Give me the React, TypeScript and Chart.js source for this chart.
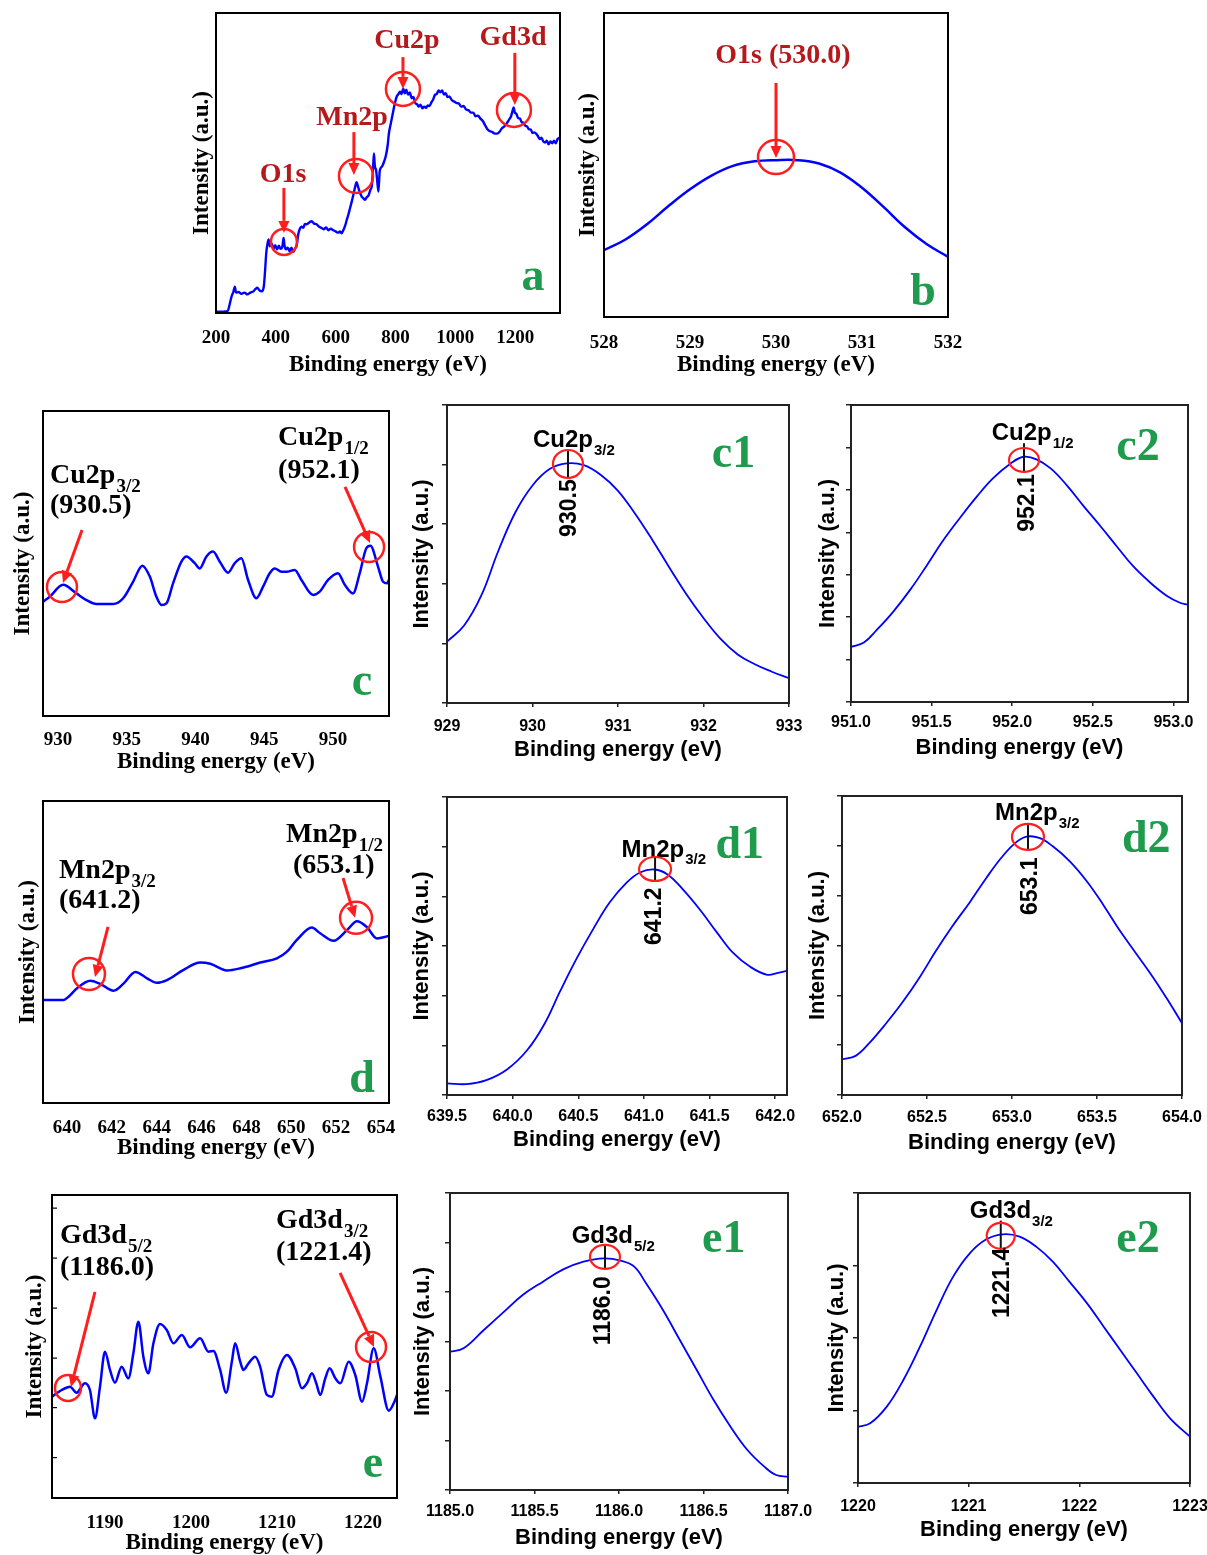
import React, { useEffect, useRef } from "react";
import { Chart, registerables } from "chart.js";
Chart.register(...registerables);

const SERIF = "'Liberation Serif', 'Times New Roman', serif";
const SANS = "'Liberation Sans', Arial, sans-serif";
const BLUE = "#0000FF";
const RED_MARK = "#FF1E1E";
const RED_TEXT = "#B5191C";
const GREEN = "#1E9B4C";

// ---------------- data ----------------
// (a) survey spectrum
const surveyEnergy = [200,215,230,240,246,252,258,263,267,275,285,295,305,315,325,332,338,345,353,360,364,368,372,376,380,386,392,398,404,410,416,422,426,429,434,440,446,452,458,464,470,475,480,486,492,497,504,512,520,528,536,544,552,560,568,576,584,592,600,608,615,620,626,632,637,643,648,654,659,665,670,674,680,687,693,698,704,710,716,721,725,728,731,735,739,743,747,750,756,762,768,774,778,784,790,797,804,810,815,820,826,831,836,842,848,854,860,866,872,878,884,890,896,902,908,914,920,926,932,938,944,950,956,962,968,974,980,988,996,1004,1012,1020,1028,1036,1044,1052,1060,1068,1076,1084,1092,1100,1108,1116,1124,1132,1140,1148,1156,1164,1172,1180,1186,1191,1195,1199,1204,1210,1216,1222,1228,1234,1240,1246,1252,1258,1264,1270,1276,1282,1288,1294,1300,1306,1312,1318,1324,1330,1336,1342,1350];
const surveyIntensity = [0.004,0.004,0.005,0.008,0.03,0.055,0.07,0.088,0.068,0.07,0.064,0.068,0.062,0.068,0.072,0.08,0.084,0.076,0.072,0.09,0.14,0.2,0.23,0.245,0.222,0.232,0.214,0.226,0.212,0.224,0.214,0.222,0.25,0.226,0.212,0.218,0.206,0.218,0.204,0.214,0.226,0.262,0.28,0.288,0.284,0.297,0.296,0.302,0.306,0.298,0.296,0.288,0.284,0.279,0.285,0.276,0.281,0.276,0.272,0.268,0.272,0.266,0.277,0.292,0.31,0.33,0.349,0.372,0.393,0.42,0.436,0.424,0.405,0.388,0.382,0.377,0.386,0.392,0.41,0.425,0.48,0.532,0.49,0.477,0.44,0.405,0.47,0.482,0.49,0.505,0.525,0.56,0.599,0.63,0.66,0.695,0.721,0.73,0.738,0.73,0.748,0.732,0.744,0.728,0.735,0.716,0.72,0.7,0.696,0.688,0.694,0.682,0.688,0.684,0.692,0.69,0.702,0.712,0.727,0.73,0.742,0.736,0.742,0.728,0.733,0.72,0.722,0.71,0.705,0.7,0.698,0.688,0.69,0.678,0.676,0.668,0.668,0.656,0.658,0.648,0.64,0.625,0.612,0.606,0.603,0.598,0.598,0.604,0.616,0.622,0.632,0.645,0.655,0.672,0.685,0.668,0.664,0.65,0.648,0.636,0.634,0.624,0.622,0.612,0.612,0.6,0.602,0.598,0.59,0.58,0.584,0.572,0.568,0.574,0.562,0.572,0.566,0.574,0.566,0.58,0.585];
const surveyTicks = [200, 400, 600, 800, 1000, 1200];

// (b) O1s
const o1sEnergy = [528.0,528.25,528.5,528.75,529.0,529.25,529.5,529.75,530.0,530.25,530.5,530.75,531.0,531.25,531.5,531.75,532.0];
const o1sIntensity = [0.22,0.255,0.305,0.365,0.42,0.465,0.497,0.512,0.516,0.516,0.505,0.475,0.425,0.362,0.295,0.24,0.198];
const o1sTicks = [528, 529, 530, 531, 532];

// (c) Cu2p
const cu2pEnergy = [928.91,929.39,930.36,931.33,932.06,932.79,934.0,934.73,935.45,936.13,936.67,937.15,937.52,937.88,938.36,938.97,939.33,939.94,940.3,940.79,941.27,941.76,942.36,942.85,943.33,943.82,944.42,944.91,945.39,945.76,946.24,946.61,947.21,947.7,948.55,949.03,949.64,950.36,950.85,951.45,951.94,952.42,952.72,953.27,953.64,953.93,954.07];
const cu2pIntensity = [0.375,0.391,0.43,0.402,0.38,0.367,0.367,0.386,0.44,0.493,0.457,0.391,0.364,0.369,0.435,0.506,0.523,0.501,0.484,0.523,0.539,0.506,0.47,0.501,0.517,0.446,0.386,0.424,0.468,0.484,0.473,0.473,0.479,0.446,0.397,0.408,0.446,0.468,0.43,0.402,0.468,0.55,0.558,0.49,0.44,0.435,0.446];
const cu2pTicks = [930, 935, 940, 945, 950];

// (c1) Cu2p3/2
const cu2p32Energy = [929.0,929.2,929.4,929.6,929.8,930.0,930.2,930.4,930.6,930.8,931.0,931.2,931.4,931.6,931.8,932.0,932.2,932.4,932.6,932.8,933.0];
const cu2p32Intensity = [0.206,0.26,0.36,0.51,0.64,0.73,0.785,0.804,0.798,0.765,0.712,0.635,0.548,0.455,0.365,0.285,0.215,0.163,0.13,0.105,0.083];
const cu2p32Ticks = [929, 930, 931, 932, 933];
const cu2p32YTicks = [0, 0.2, 0.4, 0.6, 0.8, 1.0];

// (c2) Cu2p1/2
const cu2p12Energy = [951.0,951.08,951.16,951.26,951.37,951.47,951.57,951.68,951.78,951.88,951.99,952.07,952.15,952.24,952.34,952.44,952.55,952.65,952.75,952.86,952.96,953.04,953.09];
const cu2p12Intensity = [1.3,1.4,1.7,2.12,2.66,3.22,3.8,4.36,4.84,5.27,5.62,5.78,5.72,5.5,5.1,4.63,4.13,3.66,3.2,2.8,2.5,2.34,2.29];
const cu2p12Ticks = [951.0, 951.5, 952.0, 952.5, 953.0];
const cu2p12YTicks = [0, 1, 2, 3, 4, 5, 6, 7];

// (d) Mn2p
const mn2pEnergy = [638.96,639.85,640.07,640.45,641.04,641.49,642.08,642.53,643.05,643.57,644.01,644.46,645.2,645.94,646.39,647.13,647.73,648.62,649.36,649.81,650.25,650.92,651.29,651.89,652.48,652.93,653.37,653.82,654.34];
const mn2pIntensity = [0.341,0.341,0.352,0.38,0.405,0.394,0.372,0.396,0.434,0.413,0.398,0.407,0.441,0.465,0.461,0.439,0.446,0.465,0.479,0.501,0.54,0.581,0.562,0.537,0.572,0.602,0.583,0.545,0.553];
const mn2pTicks = [640, 642, 644, 646, 648, 650, 652, 654];

// (d1) Mn2p3/2
const mn2p32Energy = [639.5,639.65,639.8,639.96,640.11,640.24,640.36,640.49,640.62,640.74,640.87,640.97,641.08,641.18,641.3,641.43,641.56,641.68,641.81,641.94,642.02,642.09];
const mn2p32Intensity = [0.235,0.22,0.3,0.52,0.9,1.42,2.08,2.76,3.37,3.88,4.28,4.48,4.54,4.44,4.13,3.72,3.26,2.86,2.58,2.42,2.46,2.5];
const mn2p32Ticks = [639.5, 640.0, 640.5, 641.0, 641.5, 642.0];
const mn2p32YTicks = [0, 1, 2, 3, 4, 5, 6];

// (d2) Mn2p1/2
const mn2p12Energy = [652.0,652.08,652.16,652.26,652.36,652.46,652.55,652.65,652.75,652.85,652.93,653.01,653.08,653.16,653.24,653.34,653.44,653.54,653.63,653.73,653.83,653.91,654.0];
const mn2p12Intensity = [0.718,0.785,1.04,1.44,1.88,2.38,2.88,3.39,3.86,4.36,4.73,5.03,5.18,5.16,4.99,4.69,4.29,3.8,3.32,2.84,2.36,1.94,1.44];
const mn2p12Ticks = [652.0, 652.5, 653.0, 653.5, 654.0];
const mn2p12YTicks = [0, 1, 2, 3, 4, 5, 6];

// (e) Gd3d
const gd3dEnergy = [1183.84,1184.96,1185.93,1186.7,1187.67,1188.25,1188.84,1189.42,1190.0,1190.58,1191.16,1191.94,1192.72,1193.3,1193.88,1194.46,1195.04,1195.63,1196.4,1197.18,1197.96,1198.93,1199.9,1201.06,1202.03,1202.61,1203.39,1204.09,1204.75,1205.13,1205.72,1206.1,1206.69,1207.46,1208.04,1208.82,1209.4,1210.18,1211.15,1212.12,1212.9,1213.48,1214.06,1214.56,1215.03,1215.61,1216.12,1216.78,1217.36,1218.33,1219.1,1219.88,1220.46,1221.24,1222.02,1222.99,1223.57,1223.95];
const gd3dIntensity = [2.007,2.139,2.205,2.086,2.271,2.139,1.578,2.205,2.898,2.535,2.284,2.601,2.37,2.865,3.492,2.799,2.469,3.063,3.446,3.327,3.063,3.228,2.983,3.162,2.898,2.911,2.535,2.086,2.7,3.063,2.7,2.535,2.667,2.799,2.601,2.04,2.007,2.535,2.832,2.568,2.172,2.271,2.469,2.271,2.04,2.37,2.568,2.37,2.271,2.7,2.436,1.908,2.271,2.964,2.403,1.729,1.875,2.04];
const gd3dTicks = [1190, 1200, 1210, 1220];
const gd3dInnerTicks = [0.8, 1.79, 2.77, 3.76, 4.75, 5.74];

// (e1) Gd3d5/2
const gd3d52Energy = [1185.0,1185.08,1185.2,1185.32,1185.43,1185.55,1185.67,1185.79,1185.91,1186.01,1186.09,1186.16,1186.26,1186.36,1186.46,1186.56,1186.66,1186.76,1186.86,1186.93,1187.0];
const gd3d52Intensity = [2.795,2.862,3.232,3.603,3.939,4.209,4.458,4.613,4.68,4.633,4.512,4.175,3.636,3.03,2.424,1.818,1.279,0.808,0.471,0.303,0.269];
const gd3d52Ticks = [1185.0, 1185.5, 1186.0, 1186.5, 1187.0];
const gd3d52YTicks = [0, 1, 2, 3, 4, 5, 6];

// (e2) Gd3d3/2
const gd3d32Energy = [1220.0,1220.11,1220.26,1220.41,1220.56,1220.71,1220.86,1221.01,1221.16,1221.31,1221.46,1221.61,1221.76,1221.91,1222.07,1222.22,1222.37,1222.52,1222.67,1222.82,1223.0];
const gd3d32Intensity = [0.777,0.823,1.053,1.421,1.88,2.386,2.846,3.168,3.361,3.43,3.398,3.26,3.053,2.777,2.478,2.156,1.834,1.513,1.191,0.892,0.639];
const gd3d32Ticks = [1220, 1221, 1222, 1223];
const gd3d32YTicks = [0, 1, 2, 3, 4];

// ---------------- layout / annotation specs ----------------
type Mark =
  | { kind: "label"; x: number; y: number; text: string; sub?: string; align: "left" | "center"; tone: "red" | "black" }
  | { kind: "circle"; x: number; y: number; rx: number; ry: number }
  | { kind: "arrow"; x1: number; y1: number; x2: number; y2: number }
  | { kind: "tick"; x: number; y1: number; y2: number }
  | { kind: "vtext"; x: number; y: number; text: string }
  | { kind: "letter"; x: number; y: number; text: string };

interface PanelSpec {
  key: string;
  box: [number, number, number, number];
  energy: number[];
  intensity: number[];
  xMin: number; xMax: number; xTicks: number[]; xDec: number;
  yMax: number; yTicks: number[]; innerTicks?: number[];
  serif: boolean; lineWidth: number; smooth: boolean;
  tickY: number; titleY: number; yTitleX: number;
  marks: Mark[];
}

const panels: PanelSpec[] = [
  {
    key: "a", box: [216, 13, 560, 313], energy: surveyEnergy, intensity: surveyIntensity,
    xMin: 200, xMax: 1350, xTicks: surveyTicks, xDec: 0, yMax: 1, yTicks: [],
    serif: true, lineWidth: 2.4, smooth: false, tickY: 338, titleY: 365, yTitleX: 202,
    marks: [
      { kind: "label", x: 424, y: 0.438, text: "O1s", align: "center", tone: "red" },
      { kind: "label", x: 655, y: 0.627, text: "Mn2p", align: "center", tone: "red" },
      { kind: "label", x: 838, y: 0.882, text: "Cu2p", align: "center", tone: "red" },
      { kind: "label", x: 1193, y: 0.893, text: "Gd3d", align: "center", tone: "red" },
      { kind: "arrow", x1: 427, y1: 0.417, x2: 427, y2: 0.267 },
      { kind: "arrow", x1: 661, y1: 0.603, x2: 661, y2: 0.46 },
      { kind: "arrow", x1: 825, y1: 0.853, x2: 825, y2: 0.747 },
      { kind: "arrow", x1: 1199, y1: 0.867, x2: 1199, y2: 0.693 },
      { kind: "circle", x: 427, y: 0.237, rx: 13, ry: 13 },
      { kind: "circle", x: 668, y: 0.457, rx: 17, ry: 17 },
      { kind: "circle", x: 825, y: 0.747, rx: 17, ry: 17 },
      { kind: "circle", x: 1196, y: 0.677, rx: 17, ry: 17 },
      { kind: "letter", x: 1260, y: 0.077, text: "a" },
    ],
  },
  {
    key: "b", box: [604, 13, 948, 317], energy: o1sEnergy, intensity: o1sIntensity,
    xMin: 528, xMax: 532, xTicks: o1sTicks, xDec: 0, yMax: 1, yTicks: [],
    serif: true, lineWidth: 2.5, smooth: true, tickY: 343, titleY: 365, yTitleX: 588,
    marks: [
      { kind: "label", x: 530.08, y: 0.835, text: "O1s (530.0)", align: "center", tone: "red" },
      { kind: "arrow", x1: 530.0, y1: 0.77, x2: 530.0, y2: 0.523 },
      { kind: "circle", x: 530.0, y: 0.526, rx: 18, ry: 17 },
      { kind: "letter", x: 531.71, y: 0.039, text: "b" },
    ],
  },
  {
    key: "c", box: [43, 411, 389, 716], energy: cu2pEnergy, intensity: cu2pIntensity,
    xMin: 928.9, xMax: 954.07, xTicks: cu2pTicks, xDec: 0, yMax: 1, yTicks: [],
    serif: true, lineWidth: 2.5, smooth: false, tickY: 740, titleY: 762, yTitleX: 23,
    marks: [
      { kind: "label", x: 929.41, y: 0.763, text: "Cu2p", sub: "3/2", align: "left", tone: "black" },
      { kind: "label", x: 929.41, y: 0.666, text: "(930.5)", align: "left", tone: "black" },
      { kind: "label", x: 946.0, y: 0.889, text: "Cu2p", sub: "1/2", align: "left", tone: "black" },
      { kind: "label", x: 946.0, y: 0.78, text: "(952.1)", align: "left", tone: "black" },
      { kind: "arrow", x1: 931.74, y1: 0.61, x2: 930.35, y2: 0.436 },
      { kind: "arrow", x1: 950.87, y1: 0.751, x2: 952.69, y2: 0.567 },
      { kind: "circle", x: 930.28, y: 0.423, rx: 15, ry: 15 },
      { kind: "circle", x: 952.62, y: 0.554, rx: 15, ry: 15 },
      { kind: "letter", x: 952.11, y: 0.069, text: "c" },
    ],
  },
  {
    key: "c1", box: [447, 405, 789, 703], energy: cu2p32Energy, intensity: cu2p32Intensity,
    xMin: 929, xMax: 933, xTicks: cu2p32Ticks, xDec: 0, yMax: 1, yTicks: cu2p32YTicks,
    serif: false, lineWidth: 1.8, smooth: true, tickY: 727, titleY: 750, yTitleX: 422,
    marks: [
      { kind: "label", x: 930.006, y: 0.859, text: "Cu2p", sub: "3/2", align: "left", tone: "black" },
      { kind: "tick", x: 930.415, y1: 0.849, y2: 0.758 },
      { kind: "circle", x: 930.415, y: 0.802, rx: 15, ry: 14 },
      { kind: "vtext", x: 930.44, y: 0.654, text: "930.5" },
      { kind: "letter", x: 932.35, y: 0.793, text: "c1" },
    ],
  },
  {
    key: "c2", box: [851, 405, 1188, 702], energy: cu2p12Energy, intensity: cu2p12Intensity,
    xMin: 951, xMax: 953.09, xTicks: cu2p12Ticks, xDec: 1, yMax: 7, yTicks: cu2p12YTicks,
    serif: false, lineWidth: 1.8, smooth: true, tickY: 723, titleY: 748, yTitleX: 828,
    marks: [
      { kind: "label", x: 951.873, y: 6.175, text: "Cu2p", sub: "1/2", align: "left", tone: "black" },
      { kind: "tick", x: 952.073, y1: 6.1, y2: 5.421 },
      { kind: "circle", x: 952.073, y: 5.704, rx: 15, ry: 12 },
      { kind: "vtext", x: 952.098, y: 4.69, text: "952.1" },
      { kind: "letter", x: 952.78, y: 5.7, text: "c2" },
    ],
  },
  {
    key: "d", box: [43, 801, 389, 1103], energy: mn2pEnergy, intensity: mn2pIntensity,
    xMin: 638.93, xMax: 654.36, xTicks: mn2pTicks, xDec: 0, yMax: 1, yTicks: [],
    serif: true, lineWidth: 2.5, smooth: false, tickY: 1128, titleY: 1148, yTitleX: 28,
    marks: [
      { kind: "label", x: 639.64, y: 0.745, text: "Mn2p", sub: "3/2", align: "left", tone: "black" },
      { kind: "label", x: 639.64, y: 0.646, text: "(641.2)", align: "left", tone: "black" },
      { kind: "label", x: 649.77, y: 0.864, text: "Mn2p", sub: "1/2", align: "left", tone: "black" },
      { kind: "label", x: 650.08, y: 0.762, text: "(653.1)", align: "left", tone: "black" },
      { kind: "arrow", x1: 641.83, y1: 0.583, x2: 641.25, y2: 0.417 },
      { kind: "arrow", x1: 652.31, y1: 0.745, x2: 652.85, y2: 0.613 },
      { kind: "circle", x: 640.98, y: 0.427, rx: 16, ry: 16 },
      { kind: "circle", x: 652.89, y: 0.613, rx: 16, ry: 16 },
      { kind: "letter", x: 653.16, y: 0.036, text: "d" },
    ],
  },
  {
    key: "d1", box: [447, 797, 787, 1095], energy: mn2p32Energy, intensity: mn2p32Intensity,
    xMin: 639.5, xMax: 642.09, xTicks: mn2p32Ticks, xDec: 1, yMax: 6, yTicks: mn2p32YTicks,
    serif: false, lineWidth: 1.8, smooth: true, tickY: 1117, titleY: 1140, yTitleX: 422,
    marks: [
      { kind: "label", x: 640.83, y: 4.8, text: "Mn2p", sub: "3/2", align: "left", tone: "black" },
      { kind: "tick", x: 641.085, y1: 4.8, y2: 4.29 },
      { kind: "circle", x: 641.085, y: 4.55, rx: 16, ry: 12 },
      { kind: "vtext", x: 641.085, y: 3.6, text: "641.2" },
      { kind: "letter", x: 641.73, y: 4.77, text: "d1" },
    ],
  },
  {
    key: "d2", box: [842, 796, 1182, 1095], energy: mn2p12Energy, intensity: mn2p12Intensity,
    xMin: 652, xMax: 654, xTicks: mn2p12Ticks, xDec: 1, yMax: 6, yTicks: mn2p12YTicks,
    serif: false, lineWidth: 1.8, smooth: true, tickY: 1118, titleY: 1143, yTitleX: 818,
    marks: [
      { kind: "label", x: 652.9, y: 5.52, text: "Mn2p", sub: "3/2", align: "left", tone: "black" },
      { kind: "tick", x: 653.094, y1: 5.45, y2: 4.92 },
      { kind: "circle", x: 653.094, y: 5.18, rx: 16, ry: 13 },
      { kind: "vtext", x: 653.11, y: 4.19, text: "653.1" },
      { kind: "letter", x: 653.79, y: 4.88, text: "d2" },
    ],
  },
  {
    key: "e", box: [52, 1195, 397, 1498], energy: gd3dEnergy, intensity: gd3dIntensity,
    xMin: 1183.84, xMax: 1223.95, xTicks: gd3dTicks, xDec: 0, yMax: 6, yTicks: [], innerTicks: gd3dInnerTicks,
    serif: true, lineWidth: 2.5, smooth: false, tickY: 1523, titleY: 1543, yTitleX: 35,
    marks: [
      { kind: "label", x: 1184.77, y: 5.05, text: "Gd3d", sub: "5/2", align: "left", tone: "black" },
      { kind: "label", x: 1184.77, y: 4.42, text: "(1186.0)", align: "left", tone: "black" },
      { kind: "label", x: 1209.88, y: 5.35, text: "Gd3d", sub: "3/2", align: "left", tone: "black" },
      { kind: "label", x: 1209.88, y: 4.71, text: "(1221.4)", align: "left", tone: "black" },
      { kind: "arrow", x1: 1188.84, y1: 4.08, x2: 1186.05, y2: 2.2 },
      { kind: "arrow", x1: 1217.33, y1: 4.46, x2: 1221.28, y2: 2.99 },
      { kind: "circle", x: 1185.7, y: 2.18, rx: 13, ry: 13 },
      { kind: "circle", x: 1220.93, y: 2.99, rx: 15, ry: 15 },
      { kind: "letter", x: 1221.16, y: 0.42, text: "e" },
    ],
  },
  {
    key: "e1", box: [450, 1193, 788, 1490], energy: gd3d52Energy, intensity: gd3d52Intensity,
    xMin: 1185, xMax: 1187, xTicks: gd3d52Ticks, xDec: 1, yMax: 6, yTicks: gd3d52YTicks,
    serif: false, lineWidth: 1.8, smooth: true, tickY: 1512, titleY: 1538, yTitleX: 423,
    marks: [
      { kind: "label", x: 1185.72, y: 4.98, text: "Gd3d", sub: "5/2", align: "left", tone: "black" },
      { kind: "tick", x: 1185.917, y1: 4.95, y2: 4.46 },
      { kind: "circle", x: 1185.917, y: 4.71, rx: 15, ry: 12 },
      { kind: "vtext", x: 1185.91, y: 3.62, text: "1186.0" },
      { kind: "letter", x: 1186.62, y: 4.81, text: "e1" },
    ],
  },
  {
    key: "e2", box: [858, 1193, 1190, 1483], energy: gd3d32Energy, intensity: gd3d32Intensity,
    xMin: 1220, xMax: 1223, xTicks: gd3d32Ticks, xDec: 0, yMax: 4, yTicks: gd3d32YTicks,
    serif: false, lineWidth: 1.8, smooth: true, tickY: 1507, titleY: 1530, yTitleX: 837,
    marks: [
      { kind: "label", x: 1221.01, y: 3.65, text: "Gd3d", sub: "3/2", align: "left", tone: "black" },
      { kind: "tick", x: 1221.29, y1: 3.62, y2: 3.24 },
      { kind: "circle", x: 1221.29, y: 3.41, rx: 14, ry: 13 },
      { kind: "vtext", x: 1221.31, y: 2.76, text: "1221.4" },
      { kind: "letter", x: 1222.53, y: 3.19, text: "e2" },
    ],
  },
];

const LW = 50, TP = 10, RP = 36, BH = 72;

function drawArrow(ctx: CanvasRenderingContext2D, x1: number, y1: number, x2: number, y2: number) {
  const ang = Math.atan2(y2 - y1, x2 - x1);
  const hl = 12, hw = 5.5;
  const bx = x2 - hl * Math.cos(ang), by = y2 - hl * Math.sin(ang);
  ctx.strokeStyle = RED_MARK;
  ctx.lineWidth = 3;
  ctx.beginPath();
  ctx.moveTo(x1, y1);
  ctx.lineTo(bx, by);
  ctx.stroke();
  ctx.fillStyle = RED_MARK;
  ctx.beginPath();
  ctx.moveTo(x2, y2);
  ctx.lineTo(bx + hw * Math.sin(ang), by - hw * Math.cos(ang));
  ctx.lineTo(bx - hw * Math.sin(ang), by + hw * Math.cos(ang));
  ctx.closePath();
  ctx.fill();
}

function buildConfig(p: PanelSpec): any {
  const [l, t, r, b] = p.box;
  const fam = p.serif ? SERIF : SANS;
  const tickSize = p.serif ? 19 : 16;
  const titleSize = p.serif ? 23 : 22;
  const tl = p.serif ? 0 : 4;
  const tickPad = p.tickY - b - tl - 0.6 * tickSize;
  const titlePadBottom = b + BH - p.titleY - 0.6 * titleSize;
  const yTitlePadTop = p.yTitleX - (l - LW) - 0.6 * titleSize;

  const decor = {
    id: "decor_" + p.key,
    afterDatasetsDraw(chart: any) {
      const { ctx, chartArea: ca, scales } = chart;
      const xs = scales.x, ys = scales.y;
      const X = (v: number) => xs.getPixelForValue(v);
      const Y = (v: number) => ys.getPixelForValue(v);
      ctx.save();
      ctx.strokeStyle = p.serif ? "#000" : "#222";
      ctx.lineWidth = 2;
      ctx.strokeRect(ca.left, ca.top, ca.right - ca.left, ca.bottom - ca.top);
      if (p.innerTicks) {
        ctx.lineWidth = 1.2;
        for (const v of p.innerTicks) {
          const yy = Y(v);
          ctx.beginPath();
          ctx.moveTo(ca.left, yy);
          ctx.lineTo(ca.left + 5, yy);
          ctx.stroke();
        }
      }
      for (const m of p.marks) {
        if (m.kind === "label") {
          const size = p.serif ? 28 : 24;
          const subSize = p.serif ? 19 : 15;
          ctx.fillStyle = m.tone === "red" ? RED_TEXT : "#000";
          ctx.textBaseline = "alphabetic";
          ctx.textAlign = "left";
          ctx.font = `bold ${size}px ${fam}`;
          const mw = ctx.measureText(m.text).width;
          let sw = 0;
          if (m.sub) {
            ctx.font = `bold ${subSize}px ${fam}`;
            sw = ctx.measureText(m.sub).width;
          }
          const x0 = m.align === "center" ? X(m.x) - (mw + sw) / 2 : X(m.x);
          const y0 = Y(m.y);
          ctx.font = `bold ${size}px ${fam}`;
          ctx.fillText(m.text, x0, y0);
          if (m.sub) {
            ctx.font = `bold ${subSize}px ${fam}`;
            ctx.fillText(m.sub, x0 + mw + 1, y0 + size * 0.32);
          }
        } else if (m.kind === "circle") {
          ctx.strokeStyle = RED_MARK;
          ctx.lineWidth = p.serif ? 2.5 : 2.2;
          ctx.beginPath();
          ctx.ellipse(X(m.x), Y(m.y), m.rx, m.ry, 0, 0, Math.PI * 2);
          ctx.stroke();
        } else if (m.kind === "arrow") {
          drawArrow(ctx, X(m.x1), Y(m.y1), X(m.x2), Y(m.y2));
        } else if (m.kind === "tick") {
          ctx.strokeStyle = "#111";
          ctx.lineWidth = 2;
          ctx.beginPath();
          ctx.moveTo(X(m.x), Y(m.y1));
          ctx.lineTo(X(m.x), Y(m.y2));
          ctx.stroke();
        } else if (m.kind === "vtext") {
          ctx.save();
          ctx.translate(X(m.x), Y(m.y));
          ctx.rotate(-Math.PI / 2);
          ctx.fillStyle = "#000";
          ctx.font = `bold 23px ${SANS}`;
          ctx.textAlign = "center";
          ctx.textBaseline = "middle";
          ctx.fillText(m.text, 0, 0);
          ctx.restore();
        } else if (m.kind === "letter") {
          ctx.fillStyle = GREEN;
          ctx.font = `bold 46px ${SERIF}`;
          ctx.textAlign = "center";
          ctx.textBaseline = "alphabetic";
          ctx.fillText(m.text, X(m.x), Y(m.y));
        }
      }
      ctx.restore();
    },
  };

  const ds: any = {
    data: p.energy.map((e, i) => ({ x: e, y: p.intensity[i] })),
    borderColor: BLUE,
    borderWidth: p.lineWidth,
    pointRadius: 0,
    fill: false,
  };
  if (p.smooth) {
    ds.tension = 0.4;
  } else {
    ds.cubicInterpolationMode = "monotone";
  }

  return {
    type: "line",
    data: { datasets: [ds] },
    options: {
      responsive: false,
      animation: false,
      devicePixelRatio: 1,
      layout: { padding: { left: 0, top: TP, right: RP, bottom: 0 } },
      plugins: { legend: { display: false }, tooltip: { enabled: false }, title: { display: false } },
      scales: {
        x: {
          type: "linear",
          min: p.xMin,
          max: p.xMax,
          afterBuildTicks: (s: any) => {
            s.ticks = p.xTicks.map((v) => ({ value: v }));
          },
          afterFit: (s: any) => {
            s.height = BH;
          },
          ticks: {
            autoSkip: false,
            maxRotation: 0,
            minRotation: 0,
            padding: tickPad,
            color: "#000",
            font: { family: fam, size: tickSize, weight: "bold", lineHeight: 1.2 },
            callback: (v: any) => Number(v).toFixed(p.xDec),
          },
          grid: {
            display: !p.serif,
            drawOnChartArea: false,
            drawTicks: !p.serif,
            tickLength: 4,
            color: "#222",
            lineWidth: 1.5,
          },
          border: { display: false },
          title: {
            display: true,
            text: "Binding energy (eV)",
            color: "#000",
            font: { family: fam, size: titleSize, weight: "bold", lineHeight: 1.2 },
            padding: { top: 0, bottom: titlePadBottom },
          },
        },
        y: {
          type: "linear",
          min: 0,
          max: p.yMax,
          afterBuildTicks: (s: any) => {
            s.ticks = p.yTicks.map((v) => ({ value: v }));
          },
          afterFit: (s: any) => {
            s.width = LW;
          },
          ticks: { display: false },
          grid: {
            display: p.yTicks.length > 0,
            drawOnChartArea: false,
            drawTicks: true,
            tickLength: 5,
            color: "#222",
            lineWidth: 1.5,
          },
          border: { display: false },
          title: {
            display: true,
            text: "Intensity (a.u.)",
            color: "#000",
            font: { family: fam, size: titleSize, weight: "bold", lineHeight: 1.2 },
            padding: { top: yTitlePadTop, bottom: 0 },
          },
        },
      },
    },
    plugins: [decor],
  };
}

function Panel({ p }: { p: PanelSpec }) {
  const ref = useRef<HTMLCanvasElement | null>(null);
  const [l, t, r, b] = p.box;
  const cl = l - LW, ct = t - TP;
  const cw = r - l + LW + RP, ch = b - t + TP + BH;
  useEffect(() => {
    if (!ref.current) return;
    const chart = new Chart(ref.current, buildConfig(p));
    return () => chart.destroy();
  }, [p]);
  return (
    <canvas
      ref={ref}
      width={cw}
      height={ch}
      style={{ position: "absolute", left: cl, top: ct, width: cw, height: ch }}
    />
  );
}

export default function App() {
  return (
    <div
      style={{
        position: "absolute",
        left: 0,
        top: 0,
        width: 1207,
        height: 1555,
        overflow: "hidden",
        background: "#fff",
      }}
    >
      {panels.map((p) => (
        <Panel key={p.key} p={p} />
      ))}
    </div>
  );
}
